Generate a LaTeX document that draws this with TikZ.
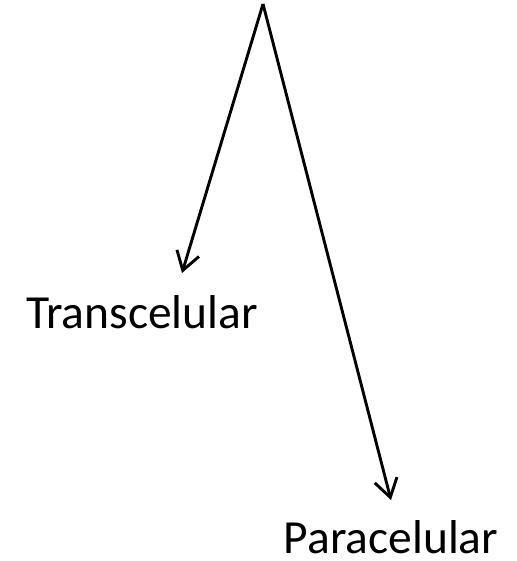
\documentclass[tikz,border=0pt]{standalone}
\usepackage{fontspec}
\setmainfont{Carlito}
\usetikzlibrary{arrows.meta}

\begin{document}
\begin{tikzpicture}[x=1pt, y=-1pt,
    routetext/.style={font=\fontsize{47.5}{57}\selectfont, anchor=base, inner sep=0pt},
    routearrow/.style={line width=2.9pt, -{Straight Barb[length=18pt, width=23pt]}},
]
    \useasboundingbox (0,0) rectangle (516,561);

    \coordinate (apex) at (263,4);
    \coordinate (tipT) at (182,273);
    \coordinate (tipP) at (391,500);

    \node[routetext] (trans) at (142,328) {Transcelular};
    \node[routetext] (para) at (391,553) {Paracelular};

    \draw[routearrow] (apex) -- (tipT);
    \draw[routearrow] (apex) -- (tipP);
\end{tikzpicture}
\end{document}
